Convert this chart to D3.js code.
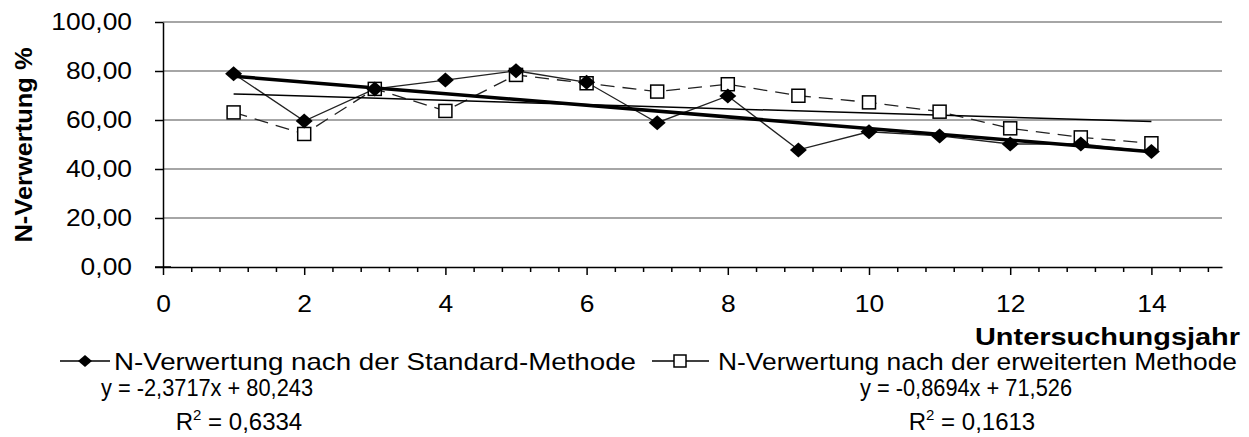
<!DOCTYPE html>
<html>
<head>
<meta charset="utf-8">
<script src="https://cdn.jsdelivr.net/npm/d3@7"></script>
<style>
  body { margin: 0; background: #fff; }
  text { font-family: "Liberation Sans", Arial, sans-serif; fill: #000; }
</style>
</head>
<body>
<svg id="chart" width="1249" height="437"></svg>
<script>
// Untersuchungsjahr 1..14
var years = [1, 2, 3, 4, 5, 6, 7, 8, 9, 10, 11, 12, 13, 14];
var standardValues = [78.9, 59.6, 72.7, 76.3, 80.1, 75.4, 58.9, 69.8, 47.8, 55.2, 53.5, 50.2, 50.2, 47.1];
var erweitertValues = [63.1, 54.3, 72.7, 63.7, 78.4, 75.0, 71.6, 74.6, 69.9, 67.2, 63.4, 56.6, 52.9, 50.5];
var seriesNames = ["N-Verwertung nach der Standard-Methode", "N-Verwertung nach der erweiterten Methode"];
// trendline equations as printed in the chart
var trendSlopes = [-2.3717, -0.8694];
var trendIntercepts = [80.243, 71.526];
var trendLabels = ["y = -2,3717x + 80,243", "y = -0,8694x + 71,526"];
var r2Values = ["0,6334", "0,1613"];
var yTicks = [0, 20, 40, 60, 80, 100];
var xTicks = [0, 2, 4, 6, 8, 10, 12, 14];

var svg = d3.select("#chart");
var mLeft = 163, mRight = 1222, mTop = 22, mBottom = 267;

var x = d3.scaleLinear().domain([0, 15]).range([mLeft, mRight]);
var y = d3.scaleLinear().domain([0, 100]).range([mBottom, mTop]);
var fmt = function(v) { return d3.format(".2f")(v).replace(".", ","); };

// the original chart was pasted slightly wider than tall, so text runs a bit wide
function widen(sel, f) {
  sel.each(function() {
    var w = this.getComputedTextLength();
    d3.select(this).attr("textLength", w * f).attr("lengthAdjust", "spacingAndGlyphs");
  });
}

// gridlines
svg.append("g").selectAll("line")
  .data(yTicks.filter(function(d) { return d > 0; }))
  .enter().append("line")
  .attr("x1", mLeft).attr("x2", mRight)
  .attr("y1", function(d) { return y(d); })
  .attr("y2", function(d) { return y(d); })
  .attr("stroke", "#a6a6a6")
  .attr("stroke-width", 2);

// y axis
var yAxis = svg.append("g")
  .attr("transform", "translate(" + mLeft + ",0)")
  .call(d3.axisLeft(y).tickValues(yTicks).tickFormat(fmt).tickSize(8).tickPadding(23).tickSizeOuter(0));
yAxis.select(".domain").attr("stroke", "#000").attr("stroke-width", 1.5);
yAxis.selectAll(".tick line").attr("stroke", "#000").attr("stroke-width", 1.5);
yAxis.selectAll("text").style("font-size", "24px");
widen(yAxis.selectAll("text"), 1.1);

// x axis minor + major ticks
var minorTicks = d3.range(0, 15.01, 0.4).filter(function(d) { return Math.abs(d / 2 - Math.round(d / 2)) > 0.01; });
var xMinor = svg.append("g")
  .attr("transform", "translate(0," + mBottom + ")")
  .call(d3.axisBottom(x).tickValues(minorTicks).tickFormat("").tickSize(5).tickSizeOuter(0));
xMinor.selectAll(".tick line").attr("stroke", "#000").attr("stroke-width", 1.5);
xMinor.select(".domain").attr("stroke", "#000").attr("stroke-width", 1.5);

var xAxis = svg.append("g")
  .attr("transform", "translate(0," + mBottom + ")")
  .call(d3.axisBottom(x).tickValues(xTicks).tickSize(8).tickSizeOuter(0).tickPadding(20));
xAxis.select(".domain").remove();
xAxis.selectAll(".tick line").attr("stroke", "#000").attr("stroke-width", 1.5);
xAxis.selectAll("text").style("font-size", "24px");
widen(xAxis.selectAll("text"), 1.1);
// axis crossing tick at origin
svg.append("line")
  .attr("x1", x(0) - 8).attr("x2", x(0) + 8)
  .attr("y1", y(0)).attr("y2", y(0))
  .attr("stroke", "#000").attr("stroke-width", 1.5);

// series lines
var line = d3.line()
  .x(function(d, i) { return x(years[i]); })
  .y(function(d) { return y(d); });

svg.append("path")
  .datum(erweitertValues)
  .attr("fill", "none")
  .attr("stroke", "#222")
  .attr("stroke-width", 1.3)
  .attr("stroke-dasharray", "14,8")
  .attr("d", line);

svg.append("path")
  .datum(standardValues)
  .attr("fill", "none")
  .attr("stroke", "#222")
  .attr("stroke-width", 1.3)
  .attr("d", line);

// trendlines
trendSlopes.forEach(function(s, k) {
  var x0 = years[0], x1 = years[years.length - 1];
  svg.append("line")
    .attr("x1", x(x0)).attr("y1", y(trendIntercepts[k] + s * x0))
    .attr("x2", x(x1)).attr("y2", y(trendIntercepts[k] + s * x1))
    .attr("stroke", "#000")
    .attr("stroke-width", k === 0 ? 3.5 : 1.5);
});

// markers
svg.append("g").selectAll("rect")
  .data(erweitertValues)
  .enter().append("rect")
  .attr("x", function(d, i) { return x(years[i]) - 6.5; })
  .attr("y", function(d) { return y(d) - 6.5; })
  .attr("width", 13).attr("height", 13)
  .attr("fill", "#fff").attr("stroke", "#000").attr("stroke-width", 1.5);

svg.append("g").selectAll("path")
  .data(standardValues)
  .enter().append("path")
  .attr("d", "M0,-7.5L8.5,0L0,7.5L-8.5,0Z")
  .attr("transform", function(d, i) { return "translate(" + x(years[i]) + "," + y(d) + ")"; })
  .attr("fill", "#000");

// axis titles
svg.append("text")
  .attr("transform", "translate(32,145) rotate(-90)")
  .attr("text-anchor", "middle")
  .attr("textLength", 195).attr("lengthAdjust", "spacingAndGlyphs")
  .style("font-size", "24px").style("font-weight", "bold")
  .text("N-Verwertung %");

svg.append("text")
  .attr("x", 1240).attr("y", 345)
  .attr("text-anchor", "end")
  .attr("textLength", 265).attr("lengthAdjust", "spacingAndGlyphs")
  .style("font-size", "24px").style("font-weight", "bold")
  .text("Untersuchungsjahr");

// legend
var legendX = [60, 652];
var legendLine = [50, 57];
var legendTextX = [54, 66];
var legendW = [522, 519];
var legendY = 361;
seriesNames.forEach(function(name, k) {
  var g = svg.append("g").attr("transform", "translate(" + legendX[k] + "," + legendY + ")");
  g.append("line").attr("x1", 0).attr("x2", legendLine[k]).attr("y1", 0).attr("y2", 0)
    .attr("stroke", "#000").attr("stroke-width", 1.5);
  if (k === 0) {
    g.append("path").attr("d", "M0,-6L7,0L0,6L-7,0Z").attr("transform", "translate(25,0)").attr("fill", "#000");
  } else {
    g.append("rect").attr("x", 22).attr("y", -6).attr("width", 12).attr("height", 12)
      .attr("fill", "#fff").attr("stroke", "#000").attr("stroke-width", 1.5);
  }
  g.append("text").attr("x", legendTextX[k]).attr("y", 9)
    .attr("textLength", legendW[k]).attr("lengthAdjust", "spacingAndGlyphs")
    .style("font-size", "24px").text(name);
});

// trendline labels
var eqX = [207, 966];
var r2X = [239, 972];
trendLabels.forEach(function(t, k) {
  svg.append("text").attr("x", eqX[k]).attr("y", 396).attr("text-anchor", "middle")
    .attr("textLength", 212).attr("lengthAdjust", "spacingAndGlyphs")
    .style("font-size", "24px").text(t);
  var r = svg.append("text").attr("x", r2X[k]).attr("y", 430).attr("text-anchor", "middle")
    .style("font-size", "24px");
  r.append("tspan").text("R");
  r.append("tspan").attr("dy", -10).style("font-size", "15px").text("2");
  r.append("tspan").attr("dy", 10).text(" = " + r2Values[k]);
});
</script>
</body>
</html>
